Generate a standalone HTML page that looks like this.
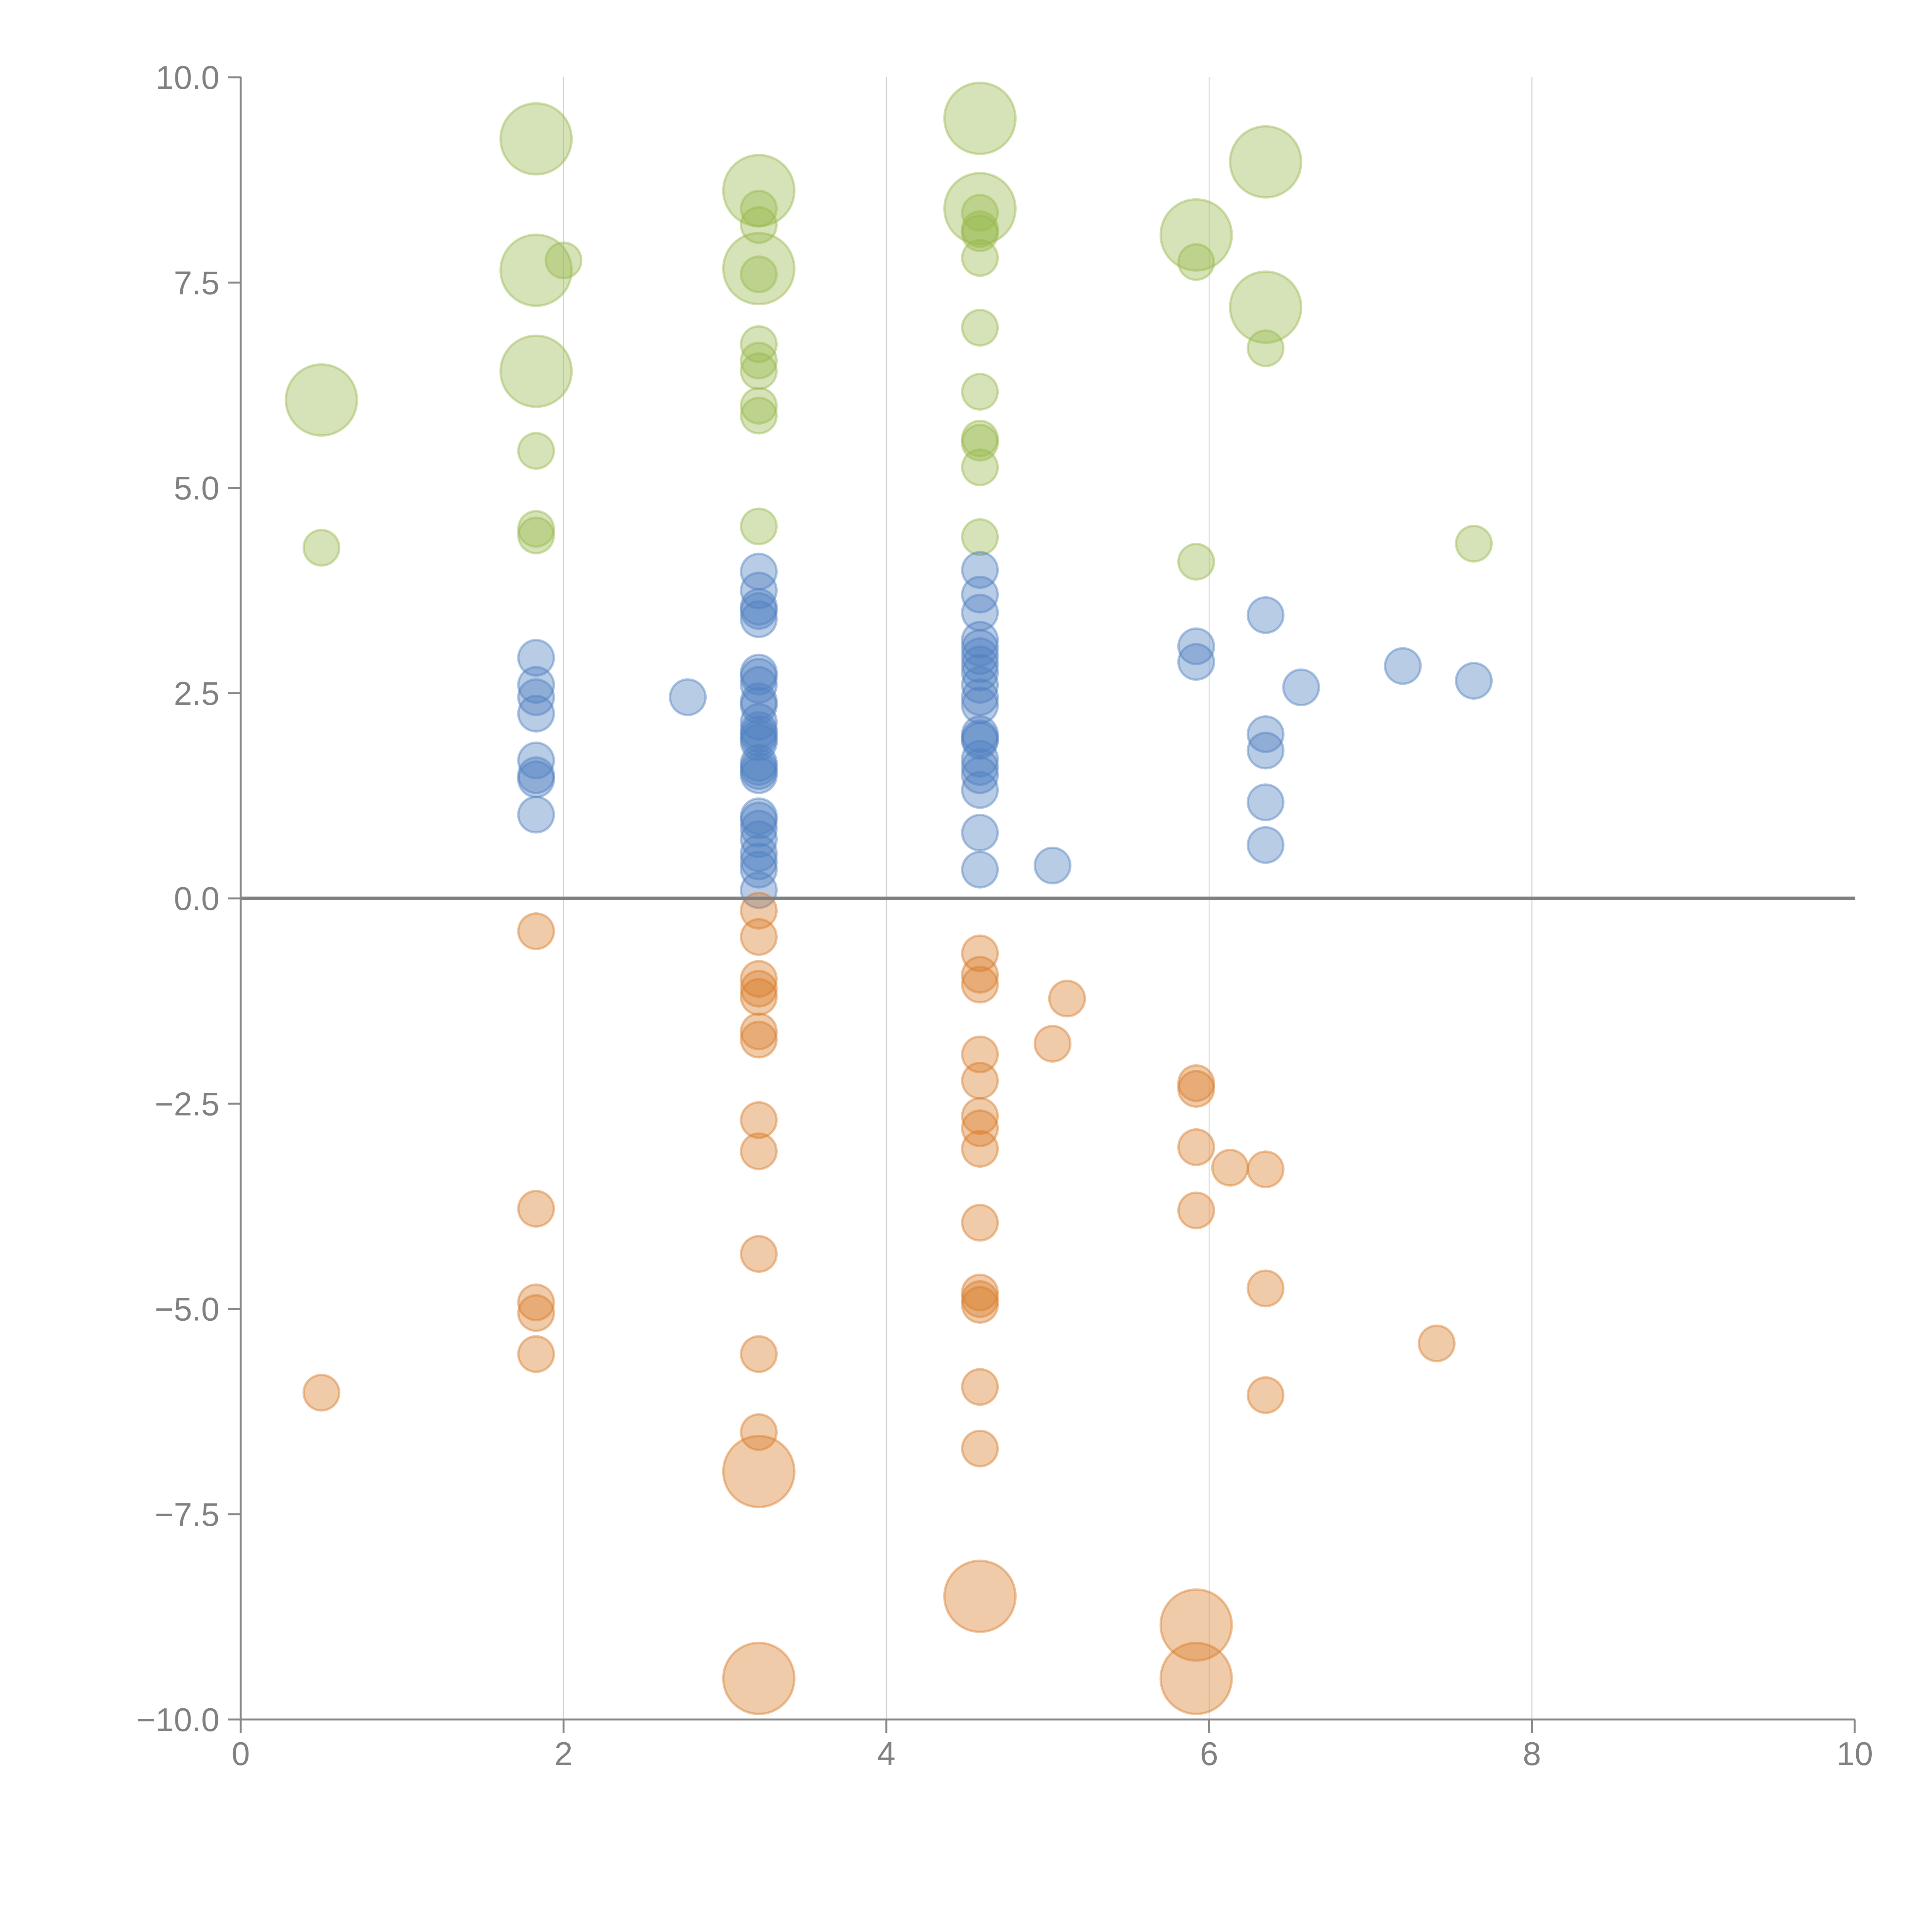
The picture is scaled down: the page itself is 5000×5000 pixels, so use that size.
<!DOCTYPE html>
<html><head><meta charset="utf-8"><style>
html,body{margin:0;padding:0;background:#fff;}
svg{display:block;}
text{font-family:"Liberation Sans",Arial,sans-serif;fill:#808080;}
</style></head>
<body>
<svg id="chart" width="5000" height="5000" viewBox="0 0 5000 5000" xmlns="http://www.w3.org/2000/svg">
<g id="grid"></g>
<g id="bubbles"></g>
<g id="axes"></g>
</svg>
<script>
const xTicks=[0,2,4,6,8,10];
const yTicks=[-10,-7.5,-5,-2.5,0,2.5,5,7.5,10];
const yTickLabels=["\u221210.0","\u22127.5","\u22125.0","\u22122.5","0.0","2.5","5.0","7.5","10.0"];
const xTickLabels=["0","2","4","6","8","10"];

const greenX=[0.5,0.5,1.83,1.83,1.83,1.83,1.83,1.83,2.0,3.21,3.21,3.21,3.21,3.21,3.21,3.21,3.21,3.21,3.21,3.21,4.58,4.58,4.58,4.58,4.58,4.58,4.58,4.58,4.58,4.58,4.58,4.58,5.92,5.92,5.92,6.35,6.35,6.35,7.64];
const greenY=[6.07,4.27,9.25,7.65,6.42,5.45,4.5,4.42,7.77,8.62,8.4,8.2,7.67,7.6,6.75,6.55,6.42,6.0,5.88,4.53,9.5,8.4,8.35,8.15,8.1,7.8,6.95,6.17,5.6,5.55,5.25,4.4,8.08,7.75,4.1,8.97,7.2,6.7,4.32];
const greenS=[2,1,2,2,2,1,1,1,1,2,1,1,2,1,1,1,1,1,1,1,2,2,1,1,1,1,1,1,1,1,1,1,2,1,1,2,2,1,1];

const blueX=[1.83,1.83,1.83,1.83,1.83,1.83,1.83,1.83,2.77,
3.21,3.21,3.21,3.21,3.21,3.21,3.21,3.21,3.21,3.21,3.21,3.21,3.21,3.21,3.21,3.21,3.21,3.21,3.21,3.21,3.21,3.21,3.21,3.21,3.21,3.21,3.21,
4.58,4.58,4.58,4.58,4.58,4.58,4.58,4.58,4.58,4.58,4.58,4.58,4.58,4.58,4.58,4.58,4.58,4.58,4.58,4.58,
5.03,5.92,5.92,6.35,6.35,6.35,6.35,6.35,6.57,7.2,7.64];
const blueY=[2.93,2.6,2.45,2.25,1.68,1.5,1.45,1.02,2.45,
3.98,3.75,3.55,3.5,3.4,2.75,2.7,2.6,2.4,2.35,2.15,2.05,2.0,1.95,1.9,1.65,1.6,1.55,1.5,1.0,0.95,0.85,0.72,0.55,0.45,0.35,0.1,
4.0,3.7,3.48,3.15,3.05,2.95,2.85,2.75,2.6,2.45,2.35,2.0,1.95,1.92,1.7,1.6,1.5,1.32,0.8,0.35,
0.4,3.07,2.88,3.45,2.0,1.8,1.17,0.65,2.57,2.83,2.65];

const orangeX=[0.5,1.83,1.83,1.83,1.83,1.83,
3.21,3.21,3.21,3.21,3.21,3.21,3.21,3.21,3.21,3.21,3.21,3.21,3.21,3.21,
4.58,4.58,4.58,4.58,4.58,4.58,4.58,4.58,4.58,4.58,4.58,4.58,4.58,4.58,4.58,
5.03,5.12,5.92,5.92,5.92,5.92,5.92,5.92,6.13,6.35,6.35,6.35,7.41];
const orangeY=[-6.02,-0.4,-3.78,-4.92,-5.05,-5.55,
-0.15,-0.47,-0.98,-1.1,-1.2,-1.62,-1.72,-2.7,-3.08,-4.33,-5.55,-6.5,-6.98,-9.5,
-0.67,-0.93,-1.05,-1.9,-2.22,-2.65,-2.8,-3.05,-3.95,-4.8,-4.88,-4.95,-5.95,-6.7,-8.5,
-1.77,-1.22,-2.25,-2.32,-3.03,-3.8,-8.85,-9.5,-3.28,-3.3,-4.75,-6.05,-5.42];
const orangeS=[1,1,1,1,1,1,
1,1,1,1,1,1,1,1,1,1,1,1,2,2,
1,1,1,1,1,1,1,1,1,1,1,1,1,1,2,
1,1,1,1,1,1,2,2,1,1,1,1,1];

const X0=623,X1=4800,Y0=4450,Y1=200;
function sx(v){return X0+(v-0)/(10-0)*(X1-X0);}
function sy(v){return Y0-(v+10)/20*(Y0-Y1);}
function sr(s){return s===2?92:46;}
const NS="http://www.w3.org/2000/svg";
function mk(tag,attrs,parent){const e=document.createElementNS(NS,tag);for(const k in attrs)e.setAttribute(k,attrs[k]);parent.appendChild(e);return e;}

const grid=document.getElementById('grid');
xTicks.forEach(function(t){
  if(t===0||t===10)return;
  const l=mk('line',{x1:sx(t),x2:sx(t),y1:Y1,y2:Y0,stroke:'#d0d0d0',"stroke-width":2.5},grid);
  
  
});

const bl=document.getElementById('bubbles');
function series(xs,ys,ss,color,name){
  const g=mk('g',{},bl);
  
  
  for(let i=0;i<xs.length;i++){
    const c=mk('circle',{cx:sx(xs[i]),cy:sy(ys[i]),r:sr(ss?ss[i]:1),fill:color,"fill-opacity":0.4,stroke:color,"stroke-opacity":0.45,"stroke-width":6},g);
    
    
  }
}
series(greenX,greenY,greenS,'#98b94d','green');
series(blueX,blueY,null,'#4f80c0','blue');
series(orangeX,orangeY,orangeS,'#da7d2b','orange');

const ax=document.getElementById('axes');
const z=mk('line',{x1:X0,x2:X1,y1:sy(0),y2:sy(0),stroke:'#808080',"stroke-width":9},ax);


const ya=mk('line',{x1:X0,x2:X0,y1:Y1,y2:Y0,stroke:'#888',"stroke-width":5},ax);


const xa=mk('line',{x1:X0,x2:X1,y1:Y0,y2:Y0,stroke:'#888',"stroke-width":5},ax);


yTicks.forEach(function(t,i){
  const tk=mk('line',{x1:X0-33,x2:X0,y1:sy(t),y2:sy(t),stroke:'#888',"stroke-width":5},ax);
  
  
  const tx=mk('text',{x:X0-55,y:sy(t)+30,"text-anchor":"end","font-size":85},ax);
  tx.textContent=yTickLabels[i];
  
  
});
xTicks.forEach(function(t,i){
  const tk=mk('line',{x1:sx(t),x2:sx(t),y1:Y0,y2:Y0+35,stroke:'#888',"stroke-width":5},ax);
  
  
  const tx=mk('text',{x:sx(t),y:Y0+118,"text-anchor":"middle","font-size":85},ax);
  tx.textContent=xTickLabels[i];
  
  
});
</script>
</body></html>
